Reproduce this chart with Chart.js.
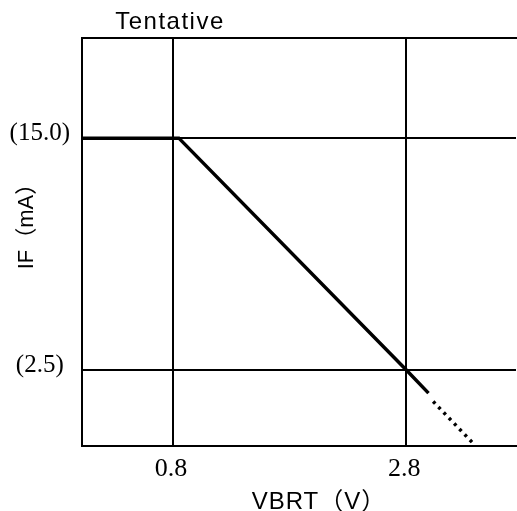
<!DOCTYPE html>
<html><head><meta charset="utf-8">
<script src="https://cdn.jsdelivr.net/npm/chart.js@4/dist/chart.umd.min.js"></script>
<style>html,body{margin:0;padding:0;background:#fff;} #wrap{width:517px;height:511px;}</style>
</head><body><div id="wrap"><canvas id="c" width="517" height="511"></canvas></div>
<script>
const solidX = [0.02, 0.85, 2.8, 2.99];
const solidY = [15, 15, 2.5, 1.25];
const dottedX = [3.03, 3.39];
const dottedY = [0.8, -1.57];
const xTicks = [0.8, 2.8];
const xTickLabels = ['0.8', '2.8'];
const yTicks = [15, 2.5];
const yTickLabels = ['(15.0)', '(2.5)'];
const chartTitle = 'Tentative';
const xTitle = 'VBRT（V）';
const yTitle = 'IF（mA）';

const toPts = (xs, ys) => xs.map((x, i) => ({x: x, y: ys[i]}));

const titlesPlugin = {
  id: 'titles',
  afterDraw(chart) {
    const ctx = chart.ctx;
    const a = chart.chartArea;
    ctx.save();
    ctx.fillStyle = '#000';
    ctx.textAlign = 'center';
    ctx.textBaseline = 'middle';
    ctx.font = '24px "Liberation Sans"';
    try { ctx.letterSpacing = '1.5px'; } catch (e) {}
    ctx.fillText(chartTitle, 170, a.top - 16);
    ctx.font = '24px "Liberation Sans", "Noto Sans CJK JP"';
    try { ctx.letterSpacing = '1px'; } catch (e) {}
    ctx.fillText(xTitle, 319, a.bottom + 56);
    try { ctx.letterSpacing = '0px'; } catch (e) {}
    ctx.font = '22px "Liberation Sans", "Noto Sans CJK JP"';
    ctx.translate(27, 221);
    ctx.rotate(-Math.PI / 2);
    ctx.fillText(yTitle, 0, 0);
    ctx.restore();
  }
};

new Chart(document.getElementById('c'), {
  type: 'line',
  data: {
    datasets: [
      {data: toPts(solidX, solidY), borderColor: '#000', borderWidth: 3.5, pointRadius: 0, tension: 0, fill: false, borderJoinStyle: 'miter'},
      {data: toPts(dottedX, dottedY), borderColor: '#000', borderWidth: 3.5, pointRadius: 0, tension: 0, fill: false, borderDash: [3, 4.6]}
    ]
  },
  options: {
    responsive: false,
    animation: false,
    devicePixelRatio: 1,
    layout: {padding: {top: 38, right: 1, left: 0, bottom: 0}},
    plugins: {legend: {display: false}, tooltip: {enabled: false}},
    scales: {
      x: {
        type: 'linear', position: 'bottom', min: 0.02, max: 3.74,
        afterBuildTicks: s => { s.ticks = xTicks.map(v => ({value: v})); },
        afterFit: s => { s.height = 65; },
        ticks: {callback: (v, i) => xTickLabels[i], font: {family: 'Liberation Serif', size: 26}, color: '#000', padding: 8, labelOffset: -2, autoSkip: false, maxRotation: 0},
        grid: {color: '#000', lineWidth: 2, drawTicks: false},
        border: {color: '#000', width: 2}
      },
      x2: {
        type: 'linear', position: 'top', min: 0, max: 1,
        afterFit: s => { s.height = 0; },
        ticks: {display: false},
        grid: {display: false, drawTicks: false},
        border: {display: true, color: '#000', width: 2}
      },
      y: {
        type: 'linear', position: 'left', min: -1.6, max: 20.4,
        afterBuildTicks: s => { s.ticks = yTicks.map(v => ({value: v})); },
        afterFit: s => { s.width = 82; },
        ticks: {callback: (v, i) => yTickLabels[i], font: {family: 'Liberation Serif', size: 25}, color: '#000', padding: 12, labelOffset: -5, crossAlign: 'center', autoSkip: false},
        grid: {color: '#000', lineWidth: 2, drawTicks: false},
        border: {color: '#000', width: 2}
      }
    }
  },
  plugins: [titlesPlugin]
});
</script></body></html>
